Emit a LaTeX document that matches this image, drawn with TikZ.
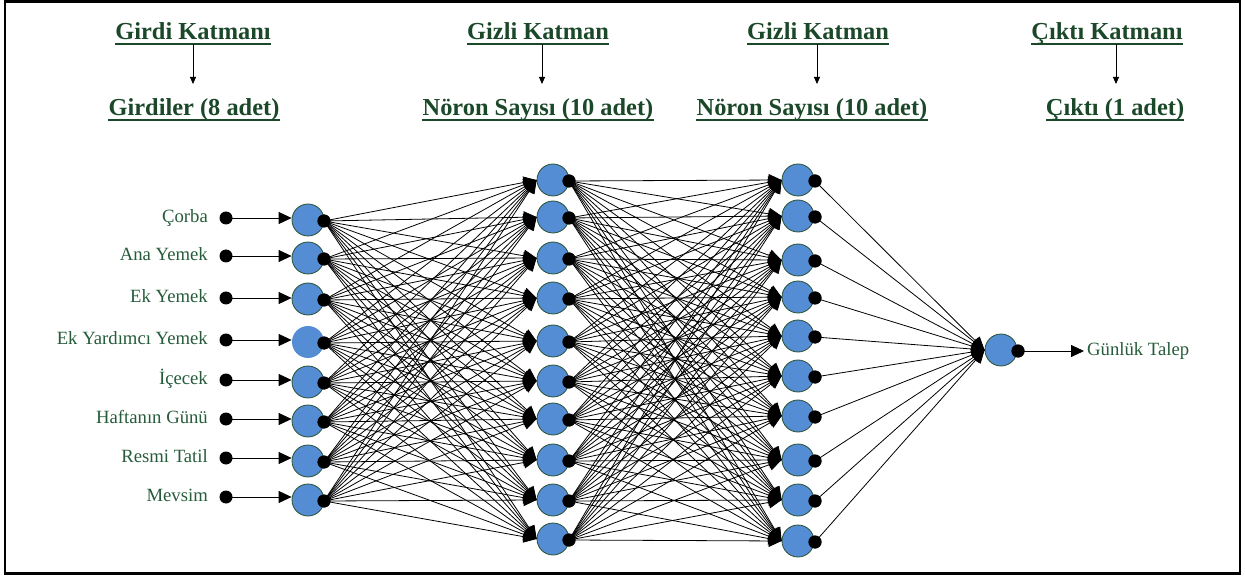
\documentclass[tikz,border=0pt]{standalone}
\usepackage{fontspec}
\newfontfamily\tnr{LiberationSerif}[Extension=.ttf, UprightFont=*-Regular, BoldFont=*-Bold, ItalicFont=*-Italic, BoldItalicFont=*-BoldItalic]
\usetikzlibrary{arrows.meta}
\definecolor{hdrgreen}{RGB}{28,72,42}
\definecolor{lblgreen}{RGB}{38,92,58}
\definecolor{nblue}{RGB}{84,141,212}
\definecolor{nedge}{RGB}{40,80,50}
\tikzset{
 neuron/.style={circle, fill=nblue, draw=nedge, line width=0.8pt, minimum size=32pt, inner sep=0pt},
 bdot/.style={circle, fill=black, minimum size=13pt, inner sep=0pt},
 conn/.style={line width=0.8pt, -{Triangle[length=13pt,width=12pt]}},
 hdr/.style={font=\tnr\fontsize{24.4}{29}\selectfont\bfseries, text=hdrgreen, inner sep=0pt},
 lbl/.style={font=\tnr\fontsize{18.7}{22}\selectfont, text=lblgreen, inner sep=0pt},
 ul/.style={draw=hdrgreen, line width=1.8pt},
 harrow/.style={line width=0.8pt, -{Triangle[length=7pt,width=6pt]}},
 frame/.style={draw=black, line width=2.5pt},
}
\begin{document}
\begin{tikzpicture}[x=1pt,y=-1pt]
\useasboundingbox (0,0) rectangle (1245,577);
\draw[frame] (5,1.5) rectangle (1240,573.5);

% headers
\node[hdr, anchor=base] (t1) at (193,40) {Girdi Katmanı};
\node[hdr, anchor=base] (b1) at (194,116) {Girdiler (8 adet)};
\node[hdr, anchor=base] (t2) at (538,40) {Gizli Katman};
\node[hdr, anchor=base] (b2) at (538,116) {Nöron Sayısı (10 adet)};
\node[hdr, anchor=base] (t3) at (818,40) {Gizli Katman};
\node[hdr, anchor=base] (b3) at (812,116) {Nöron Sayısı (10 adet)};
\node[hdr, anchor=base] (t4) at (1107,40) {Çıktı Katmanı};
\node[hdr, anchor=base] (b4) at (1115,116) {Çıktı (1 adet)};
\foreach \n in {t1,b1,t2,b2,t3,b3,t4,b4}
  \draw[ul] ([yshift=-4pt]\n.base west) -- ([yshift=-4pt]\n.base east);

\coordinate (a1s) at (193,44);  \coordinate (a1e) at (193,84);
\coordinate (a2s) at (542,44);  \coordinate (a2e) at (542,84);
\coordinate (a3s) at (817,44);  \coordinate (a3e) at (817,84);
\coordinate (a4s) at (1116,44); \coordinate (a4e) at (1116,84);
\foreach \k in {1,2,3,4}
  \draw[harrow] (a\k s) -- (a\k e);

% input labels, dots, input neurons
\foreach \lab/\ly/\cy [count=\i] in {Çorba/218/220, Ana Yemek/256/258, Ek Yemek/298/299, Ek Yardımcı Yemek/340/342, İçecek/380/382, Haftanın Günü/419/421, Resmi Tatil/458/461, Mevsim/497/500}{
  \node[lbl, anchor=mid east] (l\i) at (208,\ly+2) {\lab};
  \node[bdot] (d\i) at (226,\ly) {};
  \ifnum\i=4
    \node[neuron, draw=none] (i\i) at (308,\cy) {};
  \else
    \node[neuron] (i\i) at (308,\cy) {};
  \fi
  \node[bdot] (io\i) at (324,\cy+1) {};
  \draw[conn] (d\i.center) -- (d\i.center -| i\i.west);
}

% hidden layer 1
\foreach \cy [count=\j] in {180,217,258,298,341,381,419,460,500,539}{
  \node[neuron] (h\j) at (553,\cy) {};
  \node[bdot] (ho\j) at (569,\cy+1) {};
}
% hidden layer 2
\foreach \cy [count=\j] in {180,216,260,297,336,376,416,460,500,541}{
  \node[neuron] (g\j) at (798,\cy) {};
  \node[bdot] (go\j) at (815,\cy+1) {};
}
% output
\node[neuron] (o1) at (1001,350) {};
\node[bdot] (oo1) at (1018,351) {};
\coordinate (oe) at (1084,351);
\node[lbl, anchor=mid west] (out) at (1087,353) {Günlük Talep};

% connections
\foreach \i in {1,...,8}
  \foreach \j in {1,...,10}
    \draw[conn] (io\i.center) -- (h\j.west);
\foreach \i in {1,...,10}
  \foreach \j in {1,...,10}
    \draw[conn] (ho\i.center) -- (g\j.west);
\foreach \i in {1,...,10}
  \draw[conn] (go\i.center) -- (o1.west);
\draw[conn] (oo1.center) -- (oe);

% redraw dots on top
\foreach \i in {1,...,8} \node[bdot] at (io\i) {};
\foreach \i in {1,...,10} {\node[bdot] at (ho\i) {}; \node[bdot] at (go\i) {};}
\node[bdot] at (oo1) {};
\end{tikzpicture}
\end{document}
